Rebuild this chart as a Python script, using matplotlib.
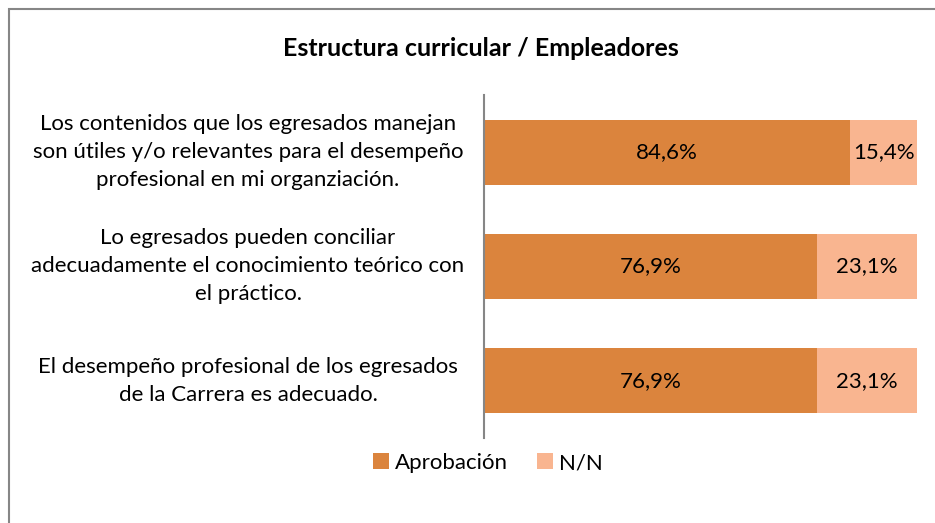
import matplotlib
matplotlib.use("Agg")
import matplotlib.pyplot as plt
from matplotlib.patches import Rectangle

categories = [
    "Los contenidos que los egresados manejan\nson útiles y/o relevantes para el desempeño\nprofesional en mi organziación.",
    "Lo egresados pueden conciliar\nadecuadamente el conocimiento teórico con\nel práctico.",
    "El desempeño profesional de los egresados\nde la Carrera es adecuado.",
]
aprobacion = [84.6, 76.9, 76.9]
nn = [15.4, 23.1, 23.1]
series_names = ["Aprobación", "N/N"]
title = "Estructura curricular / Empleadores"

c1 = "#DB843D"
c2 = "#F9B590"
FONT = "Lato"
FS = 16

fig = plt.figure(figsize=(9.35, 5.23), dpi=100)
fig.patches.append(Rectangle((8.5/935, -0.1), 2.0, 1.1 - 9.5/523, transform=fig.transFigure,
                             fill=False, edgecolor="#868686", linewidth=1.5))

ax = fig.add_axes([484/935, 1-438/523, (917-484)/935, (438-95)/523])
y = list(range(len(categories)))
ax.barh(y, aprobacion, height=0.57, color=c1, label=series_names[0])
ax.barh(y, nn, left=aprobacion, height=0.57, color=c2, label=series_names[1])
for i in y:
    ax.text(aprobacion[i]/2, i, f"{aprobacion[i]:.1f}%".replace(".", ","), ha="center", va="center",
            fontsize=FS, family=FONT, color="#000000")
    ax.text(aprobacion[i] + nn[i]/2, i, f"{nn[i]:.1f}%".replace(".", ","), ha="center", va="center",
            fontsize=FS, family=FONT, color="#000000")
ax.set_xlim(0, 100)
ax.set_ylim(len(categories)-0.5, -0.5)
ax.set_xticks([])
ax.set_yticks([])
for s in ["top", "right", "bottom"]:
    ax.spines[s].set_visible(False)
ax.spines["left"].set_color("#868686")
ax.spines["left"].set_linewidth(1.5)

for i, lab in enumerate(categories):
    ax.text(-236/433*100, i, lab, ha="center", va="center", fontsize=FS, family=FONT,
            linespacing=1.5, transform=ax.transData, clip_on=False)

fig.text(481/935, 1-48/523, title, ha="center", va="center", fontsize=18, family=FONT, weight="bold")

leg = fig.legend(loc="center", bbox_to_anchor=(488/935, 1-463/523), ncol=2, frameon=False,
                 prop={"family": FONT, "size": FS}, handlelength=0.7, handleheight=0.7,
                 handletextpad=0.3, columnspacing=1.3)

fig.savefig("out.png", dpi=100)
